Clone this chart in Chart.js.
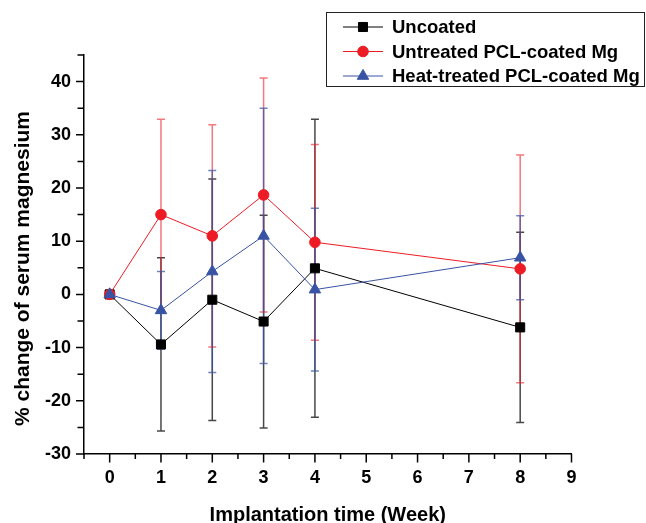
<!DOCTYPE html>
<html>
<head>
<meta charset="utf-8">
<script src="https://cdn.jsdelivr.net/npm/chart.js@4/dist/chart.umd.min.js"></script>
<style>
    html, body { margin: 0; padding: 0; background: #fff; }
    #chart { display: block; }
</style>
</head>
<body>
<canvas id="chart" width="646" height="523"></canvas>
<script>
const weeks = [0, 1, 2, 3, 4, 8];

const uncoated = [0, -9.4, -1, -5.1, 4.9, -6.2];
const uncoatedErr = [0, 16.3, 22.7, 20, 28, 17.9];

const untreated = [0, 15, 11, 18.7, 9.8, 4.8];
const untreatedErr = [0, 17.9, 20.9, 22, 18.4, 21.4];

const heatTreated = [0, -3, 4.3, 11, 0.9, 6.9];
const heatTreatedErr = [0, 7.3, 19, 24, 15.3, 7.9];

const xLabels = [0, 1, 2, 3, 4, 5, 6, 7, 8, 9];
const yLabels = [-30, -20, -10, 0, 10, 20, 30, 40];

const FONT = "'Liberation Sans', Arial, Helvetica, sans-serif";

const series = [
    { label: "Uncoated", values: uncoated, errors: uncoatedErr, color: "#000000", barColor: "rgba(0, 0, 0, 0.72)", pointStyle: "rect", radius: 6.4, order: 2 },
    { label: "Untreated PCL-coated Mg", values: untreated, errors: untreatedErr, color: "#ED1C24", barColor: "rgba(237, 28, 36, 0.6)", pointStyle: "circle", radius: 5.3, order: 1 },
    { label: "Heat-treated PCL-coated Mg", values: heatTreated, errors: heatTreatedErr, color: "#3953A4", barColor: "rgba(57, 83, 164, 0.72)", pointStyle: "triangle", radius: 6.6, order: 0 }
];

// vertical error bars with caps, drawn under the lines and markers
const errorBars = {
    id: "errorBars",
    beforeDatasetsDraw(chart) {
        const { ctx } = chart;
        const y = chart.scales.y;
        chart.data.datasets.forEach((ds, i) => {
            const meta = chart.getDatasetMeta(i);
            ctx.save();
            ctx.strokeStyle = ds.barColor;
            ctx.lineWidth = 1.5;
            ctx.beginPath();
            meta.data.forEach((pt, j) => {
                const err = ds.errors[j];
                if (!err) return;
                const v = ds.data[j].y;
                const top = y.getPixelForValue(v + err);
                const bottom = y.getPixelForValue(v - err);
                ctx.moveTo(pt.x, top);
                ctx.lineTo(pt.x, bottom);
                ctx.moveTo(pt.x - 4, top);
                ctx.lineTo(pt.x + 4, top);
                ctx.moveTo(pt.x - 4, bottom);
                ctx.lineTo(pt.x + 4, bottom);
            });
            ctx.stroke();
            ctx.restore();
        });
    }
};

// outward tick marks, axis titles and the boxed legend
const decorations = {
    id: "decorations",
    afterDraw(chart) {
        const { ctx, chartArea } = chart;
        const { x, y } = chart.scales;

        ctx.save();
        ctx.strokeStyle = "#000";
        ctx.lineWidth = 1.5;
        ctx.beginPath();
        x.ticks.forEach((t) => {
            const px = x.getPixelForValue(t.value);
            const len = Number.isInteger(t.value) ? 8.5 : 5;
            ctx.moveTo(px, chartArea.bottom);
            ctx.lineTo(px, chartArea.bottom + len);
        });
        y.ticks.forEach((t) => {
            const py = y.getPixelForValue(t.value);
            const len = t.value % 10 === 0 ? 8 : 6.5;
            ctx.moveTo(chartArea.left, py);
            ctx.lineTo(chartArea.left - len, py);
        });
        ctx.stroke();

        ctx.fillStyle = "#000";
        ctx.font = "bold 20px " + FONT;
        ctx.textAlign = "center";
        ctx.textBaseline = "alphabetic";
        ctx.fillText("Implantation time (Week)", (chartArea.left + chartArea.right) / 2, 520.5);

        ctx.save();
        ctx.translate(29, 268.5);
        ctx.rotate(-Math.PI / 2);
        ctx.font = "bold 21px " + FONT;
        ctx.fillText("% change of serum magnesium", 0, 0);
        ctx.restore();

        // legend box
        ctx.fillStyle = "#fff";
        ctx.fillRect(326, 12, 319, 75);
        ctx.strokeStyle = "#222";
        ctx.lineWidth = 1;
        ctx.strokeRect(326.5, 12.5, 318, 74);

        const rowY = [27, 51.5, 76];
        chart.data.datasets.forEach((ds, i) => {
            const ry = rowY[i];
            ctx.strokeStyle = ds.borderColor;
            ctx.lineWidth = 1;
            ctx.beginPath();
            ctx.moveTo(343, ry);
            ctx.lineTo(383, ry);
            ctx.stroke();

            ctx.fillStyle = ds.pointBackgroundColor;
            ctx.strokeStyle = ds.pointBorderColor;
            Chart.helpers.drawPoint(ctx, {
                pointStyle: ds.pointStyle,
                radius: ds.pointRadius,
                rotation: 0,
                borderWidth: 1
            }, 363, ry);

            ctx.fillStyle = "#000";
            ctx.font = "bold 18.5px " + FONT;
            ctx.textAlign = "left";
            ctx.textBaseline = "middle";
            ctx.fillText(ds.label, 392, ry + 1);
        });
        ctx.restore();
    }
};

function createChart() {
    Chart.defaults.font.family = FONT;
    Chart.defaults.color = "#000";

    const datasets = series.map((s) => ({
        label: s.label,
        data: weeks.map((w, i) => ({ x: w, y: s.values[i] })),
        errors: s.errors,
        barColor: s.barColor,
        borderColor: s.color,
        backgroundColor: s.color,
        pointBackgroundColor: s.color,
        pointBorderColor: s.color,
        pointStyle: s.pointStyle,
        pointRadius: s.radius,
        pointBorderWidth: 1,
        borderWidth: 1,
        tension: 0,
        order: s.order
    }));

    new Chart(document.getElementById("chart"), {
        type: "line",
        data: { datasets },
        options: {
            responsive: false,
            animation: false,
            devicePixelRatio: 1,
            layout: { padding: { top: 55, right: 74.5, left: 0, bottom: 0 } },
            plugins: {
                legend: { display: false },
                tooltip: { enabled: false }
            },
            scales: {
                x: {
                    type: "linear",
                    min: -0.5,
                    max: 9,
                    afterFit: (scale) => { scale.height = 69; },
                    grid: { display: false, drawTicks: false },
                    border: { display: true, color: "#000", width: 1.5 },
                    ticks: {
                        stepSize: 0.5,
                        autoSkip: false,
                        maxRotation: 0,
                        padding: 13,
                        font: { size: 18, weight: "bold" },
                        callback: (value) => (xLabels.includes(value) ? String(value) : "")
                    }
                },
                y: {
                    min: -30,
                    max: 45,
                    afterFit: (scale) => { scale.width = 84; },
                    grid: { display: false, drawTicks: false },
                    border: { display: true, color: "#000", width: 1.5 },
                    ticks: {
                        stepSize: 5,
                        autoSkip: false,
                        padding: 13,
                        font: { size: 18, weight: "bold" },
                        callback: (value) => (yLabels.includes(value) ? String(value) : "")
                    }
                }
            }
        },
        plugins: [errorBars, decorations]
    });
}

createChart();
</script>
</body>
</html>
